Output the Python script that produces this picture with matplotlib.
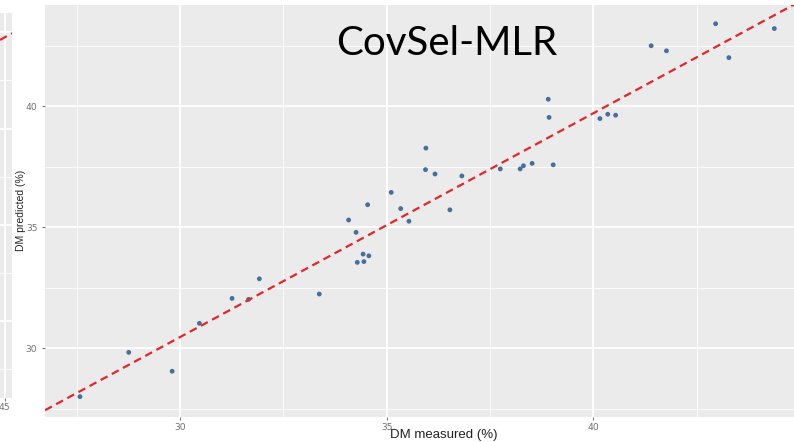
import numpy as np
import matplotlib
matplotlib.use('Agg')
import matplotlib.pyplot as plt
from matplotlib.ticker import MultipleLocator

# DM measured vs predicted (%), CovSel-MLR model
measured = [27.58, 28.76, 29.81, 30.47, 31.26, 31.66, 31.92, 33.37,
            34.08, 34.26, 34.54, 34.43, 34.57, 34.29, 34.45, 35.11,
            35.34, 35.54, 35.95, 35.94, 36.17, 36.53, 36.82, 37.75,
            38.23, 38.31, 38.52, 39.03, 38.91, 38.93, 40.16, 40.35,
            40.54, 41.40, 41.77, 42.96, 43.28, 44.38]
predicted = [27.99, 29.82, 29.04, 31.02, 32.05, 32.01, 32.86, 32.23,
             35.29, 34.78, 35.92, 33.88, 33.81, 33.54, 33.57, 36.43,
             35.76, 35.24, 38.26, 37.37, 37.19, 35.71, 37.11, 37.40,
             37.40, 37.53, 37.63, 37.57, 40.28, 39.53, 39.48, 39.66,
             39.62, 42.49, 42.28, 43.40, 42.00, 43.20]

fit_slope = 0.925
fit_intercept = 2.7

title = 'CovSel-MLR'
xlabel = 'DM measured (%)'
ylabel = 'DM predicted (%)'

W, H = 794, 442
fig = plt.figure(figsize=(W / 100, H / 100), dpi=100)
fig.patch.set_facecolor('white')

panel_bg = '#ebebeb'
tick_col = '#707070'
dot_col = '#44709e'
line_col = '#e3262b'


def gg_style(ax):
    ax.set_facecolor(panel_bg)
    for s in ax.spines.values():
        s.set_visible(False)
    ax.grid(which='major', color='white', lw=1.3)
    ax.grid(which='minor', color='white', lw=0.6)
    ax.set_axisbelow(True)
    ax.tick_params(which='major', length=2.5, width=0.7, color=tick_col,
                   labelcolor=tick_col, labelsize=6.6, pad=2)
    ax.tick_params(which='minor', length=0)


# neighbouring panel, only a thin strip of it is visible
ax0 = fig.add_axes([0, (H - 398) / H, 12 / W, (398 - 13) / H])
gg_style(ax0)
ax0.set_xlim(44.8, 45.3)
ax0.set_ylim(26, 46)
ax0.xaxis.set_major_locator(MultipleLocator(5))
ax0.yaxis.set_major_locator(MultipleLocator(5))
ax0.yaxis.set_minor_locator(MultipleLocator(2.5))
ax0.set_yticklabels([])
ax0.tick_params(axis='y', length=0)
ax0.tick_params(axis='x', pad=1)
ax0.plot([44.8, 45.3], [44.6, 44.95], color=line_col, lw=1.6,
         dashes=(3.5, 2.2))

# main panel
ax = fig.add_axes([45 / W, (H - 417) / H, (W - 45) / W, 412 / H])
gg_style(ax)
ax.set_xlim(26.734, 44.856)
ax.set_ylim(27.149, 44.174)
ax.xaxis.set_major_locator(MultipleLocator(5))
ax.xaxis.set_minor_locator(MultipleLocator(2.5))
ax.yaxis.set_major_locator(MultipleLocator(5))
ax.yaxis.set_minor_locator(MultipleLocator(2.5))
ax.tick_params(axis='y', pad=3)

ax.scatter(measured, predicted, s=12, color=dot_col, edgecolors='none',
           zorder=3)

xx = np.array(ax.get_xlim())
ax.plot(xx, fit_slope * xx + fit_intercept, color=line_col, lw=1.6,
        dashes=(3.5, 2.2), zorder=4)

fig.text(447 / W, 1 - 55 / H, title, fontsize=29, family='Lato',
         ha='center', va='baseline', color='black')
fig.text(444 / W, 1 / H, xlabel, fontsize=9.5, family='Liberation Sans',
         ha='center', va='bottom', color='#222222')
fig.text(21 / W, 1 - 210 / H, ylabel, fontsize=7.5, family='Liberation Sans',
         ha='center', va='center', rotation=90, color='#222222')

fig.savefig('out.png', dpi=100)
